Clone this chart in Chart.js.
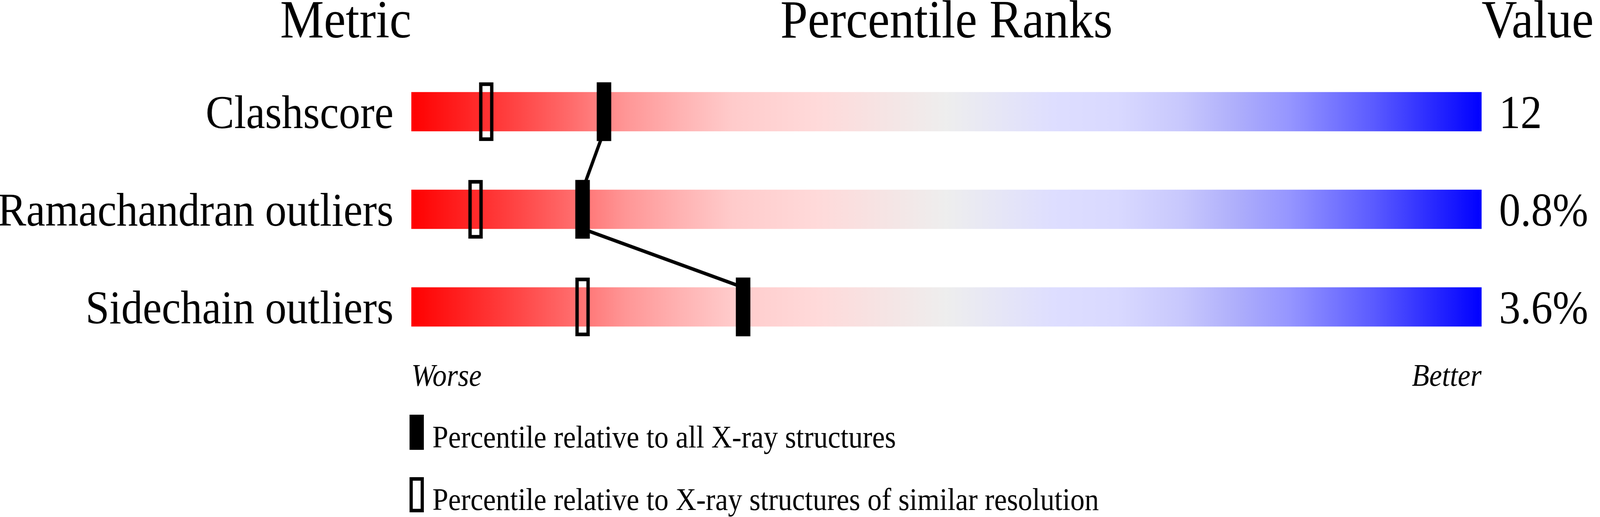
<!DOCTYPE html>
<html>
<head>
<meta charset="utf-8">
<script src="https://cdn.jsdelivr.net/npm/chart.js@4.4.1/dist/chart.umd.min.js"></script>
<style>
    html, body { margin: 0; padding: 0; background: #ffffff; overflow: hidden; }
    #wrap { width: 4485px; height: 1324px; position: relative; transform-origin: 0 0; }
</style>
</head>
<body>
<div id="wrap"><canvas id="sliderChart"></canvas></div>
<script>
// Data
const metrics = ["Clashscore", "Ramachandran outliers", "Sidechain outliers"];
const metricValues = ["12", "0.8%", "3.6%"];
const pctAll = [18, 16, 31];         // percentile relative to all X-ray structures
const pctResolution = [7, 6, 16];    // percentile relative to similar resolution
const legendLabels = [
    "Percentile relative to all X-ray structures",
    "Percentile relative to X-ray structures of similar resolution"
];

const SERIF = "'Liberation Serif', 'Times New Roman', serif";
const MARKER_W = 1.333; // marker width in percentile units (40px on 3000px)
const PAGE_W = 4485;

// the window may be narrower than the picture: squeeze it so all of it shows
const wrap = document.getElementById('wrap');
if (window.innerWidth < PAGE_W)
{
    wrap.style.transform = 'scaleX(' + (window.innerWidth / PAGE_W) + ')';
}

// red -> grey -> blue, like the original
const gradientStops = [
    [0.00, 'rgb(255,0,0)'],
    [0.10, 'rgb(255,70,70)'],
    [0.15, 'rgb(255,108,108)'],
    [0.20, 'rgb(255,150,150)'],
    [0.25, 'rgb(255,178,178)'],
    [0.30, 'rgb(255,203,203)'],
    [0.38, 'rgb(255,218,218)'],
    [0.44, 'rgb(246,228,228)'],
    [0.50, 'rgb(238,238,238)'],
    [0.60, 'rgb(222,222,255)'],
    [0.66, 'rgb(217,217,255)'],
    [0.72, 'rgb(200,200,253)'],
    [0.77, 'rgb(175,175,251)'],
    [0.82, 'rgb(150,150,255)'],
    [0.90, 'rgb(90,90,255)'],
    [1.00, 'rgb(0,0,255)']
];

function bar_gradient(context)
{
    const chart = context.chart;
    const area = chart.chartArea;
    if (!area) return 'rgb(238,238,238)';
    const g = chart.ctx.createLinearGradient(area.left, 0, area.right, 0);
    gradientStops.forEach(s => g.addColorStop(s[0], s[1]));
    return g;
}

// connecting line between the filled markers: bottom of one bar to top of the next
const connectorPlugin = {
    id: 'connector',
    afterDatasetsDraw(chart) {
        const ctx = chart.ctx;
        const xs = chart.scales.x;
        const bars = chart.getDatasetMeta(0).data;
        ctx.save();
        ctx.strokeStyle = '#000';
        ctx.lineWidth = 9;
        ctx.beginPath();
        for (let i = 0; i < pctAll.length - 1; i++)
        {
            ctx.moveTo(xs.getPixelForValue(pctAll[i]), bars[i].y + bars[i].height / 2);
            ctx.lineTo(xs.getPixelForValue(pctAll[i + 1]), bars[i + 1].y - bars[i + 1].height / 2);
        }
        ctx.stroke();
        ctx.restore();
    }
};

// headers, Worse/Better and the legend under the sliders
const textPlugin = {
    id: 'texts',
    afterDraw(chart) {
        const ctx = chart.ctx;
        const area = chart.chartArea;
        ctx.save();
        ctx.fillStyle = '#000';
        ctx.textBaseline = 'alphabetic';

        ctx.font = '138px ' + SERIF;
        ctx.textAlign = 'right';
        ctx.fillText('Metric', area.left, 96);
        ctx.textAlign = 'center';
        ctx.fillText('Percentile Ranks', (area.left + area.right) / 2, 96);
        ctx.textAlign = 'left';
        ctx.fillText('Value', area.right, 96);

        ctx.font = 'italic 80px ' + SERIF;
        ctx.textAlign = 'left';
        ctx.fillText('Worse', area.left, area.bottom + 77);
        ctx.textAlign = 'right';
        ctx.fillText('Better', area.right, area.bottom + 77);

        // legend
        const lx = area.left - 5;
        ctx.font = '80px ' + SERIF;
        ctx.textAlign = 'left';
        for (let i = 0; i < legendLabels.length; i++)
        {
            const top = 1062 + i * 160;
            if (i === 0)
            {
                ctx.fillRect(lx, top, 40, 90);
            }
            else
            {
                ctx.lineWidth = 9;
                ctx.strokeRect(lx + 4.5, top + 4.5, 31, 81);
            }
            ctx.fillText(legendLabels[i], lx + 64, top + 84);
        }
        ctx.restore();
    }
};

const slider_ctx = document.getElementById('sliderChart').getContext('2d');

const sliderChart = new Chart(slider_ctx, {
    type: 'bar',
    data: {
        labels: metrics,
        datasets: [
            {
                label: 'Percentile scale',
                data: metrics.map(() => [0, 100]),
                backgroundColor: bar_gradient,
                borderWidth: 0,
                barThickness: 100,
                grouped: false,
                order: 3
            },
            {
                label: legendLabels[1],
                data: pctResolution.map(p => [p - MARKER_W / 2, p + MARKER_W / 2]),
                backgroundColor: 'rgba(0,0,0,0)',
                borderColor: '#000',
                borderWidth: 9,
                borderSkipped: false,
                barThickness: 150,
                grouped: false,
                order: 2
            },
            {
                label: legendLabels[0],
                data: pctAll.map(p => [p - MARKER_W / 2, p + MARKER_W / 2]),
                backgroundColor: '#000',
                borderWidth: 0,
                barThickness: 150,
                grouped: false,
                order: 1
            }
        ]
    },
    options: {
        indexAxis: 'y',
        responsive: true,
        maintainAspectRatio: false,
        animation: false,
        devicePixelRatio: 1,
        layout: {
            padding: { top: 161, bottom: 413, left: 0, right: 0 }
        },
        plugins: {
            legend: { display: false },
            tooltip: { enabled: false },
            title: { display: false }
        },
        scales: {
            x: {
                type: 'linear',
                min: 0,
                max: 100,
                display: false
            },
            y: {
                type: 'category',
                position: 'left',
                offset: true,
                grid: { display: false, drawTicks: false },
                border: { display: false },
                ticks: {
                    color: '#000',
                    padding: 50,
                    labelOffset: 10,
                    font: { family: SERIF, size: 120 }
                },
                afterFit: (scale) => { scale.width = 1153; }
            },
            values: {
                type: 'category',
                position: 'right',
                labels: metricValues,
                offset: true,
                grid: { display: false, drawTicks: false },
                border: { display: false },
                ticks: {
                    color: '#000',
                    padding: 49,
                    labelOffset: 10,
                    font: { family: SERIF, size: 120 }
                },
                afterFit: (scale) => { scale.width = 332; }
            }
        }
    },
    plugins: [connectorPlugin, textPlugin]
});
</script>
</body>
</html>
